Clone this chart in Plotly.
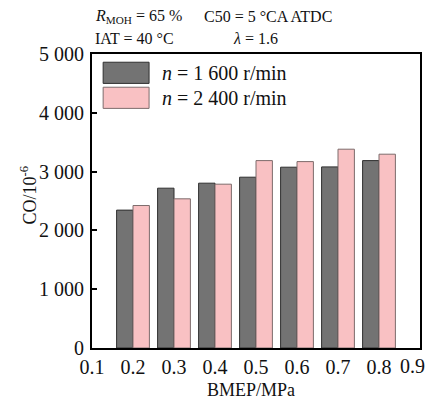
import plotly.graph_objects as go

# BMEP load points (MPa)
bmep = [0.2, 0.3, 0.4, 0.5, 0.6, 0.7, 0.8]
# CO emissions (10^-6) at the two engine speeds
co_1600 = [2345, 2718, 2803, 2905, 3075, 3080, 3187]
co_2400 = [2423, 2537, 2786, 3187, 3170, 3381, 3296]

series_names = ["<i>n</i> = 1 600 r/min", "<i>n</i> = 2 400 r/min"]
x_ticks = [0.1, 0.2, 0.3, 0.4, 0.5, 0.6, 0.7, 0.8, 0.9]
x_ticktext = ["0.1", "0.2", "0.3", "0.4", "0.5", "0.6", "0.7", "0.8", "0.9"]
y_ticks = [0, 1000, 2000, 3000, 4000, 5000]
y_ticktext = ["0", "1 000", "2 000", "3 000", "4 000", "5 000"]

FONT = "Liberation Serif, Times New Roman, serif"
TICK_SIZE = 20
GRAY = "#737373"
GRAY_EDGE = "#2f2f2f"
PINK = "#f9c1c3"
PINK_EDGE = "#7d6c6c"

fig = go.Figure()
fig.add_trace(go.Bar(x=bmep, y=co_1600, name=series_names[0],
                     marker=dict(color=GRAY, line=dict(color=GRAY_EDGE, width=1)),
                     showlegend=False))
fig.add_trace(go.Bar(x=bmep, y=co_2400, name=series_names[1],
                     marker=dict(color=PINK, line=dict(color=PINK_EDGE, width=1)),
                     showlegend=False))

# hand-drawn legend with wide swatches
legend_items = [(series_names[0], GRAY, GRAY_EDGE, 0.972, 0.900),
                (series_names[1], PINK, PINK_EDGE, 0.887, 0.815)]
shapes = []
annotations = []
for label, fill, edge, y1, y0 in legend_items:
    shapes.append(dict(type="rect", xref="paper", yref="paper",
                       x0=0.034, x1=0.174, y0=y0, y1=y1,
                       fillcolor=fill, line=dict(color=edge, width=1)))
    annotations.append(dict(text=label, xref="paper", yref="paper",
                            x=0.206, y=(y0 + y1) / 2, xanchor="left", yanchor="middle",
                            showarrow=False, font=dict(family=FONT, size=20, color="#111")))

# operating conditions above the plot
cond = [("<i>R</i><sub>MOH</sub> = 65 %", 0.003, 1.129),
        ("C50 = 5 °CA ATDC", 0.336, 1.129),
        ("IAT = 40 °C", 0.003, 1.054),
        ("<i>λ</i> = 1.6", 0.424, 1.054)]
for text, x, y in cond:
    annotations.append(dict(text=text, xref="paper", yref="paper", x=x, y=y,
                            xanchor="left", yanchor="middle", showarrow=False,
                            font=dict(family=FONT, size=16, color="#111")))

# last x tick label sits against the right edge of the figure
annotations.append(dict(text=x_ticktext[-1], xref="paper", yref="paper",
                        x=1.0212, y=-0.06, showarrow=False,
                        xanchor="right", yanchor="middle",
                        font=dict(family=FONT, size=TICK_SIZE, color="#111")))

# axis titles
annotations.append(dict(text="CO/10<sup>-6</sup>", xref="paper", yref="paper",
                        x=-0.194, y=0.52, textangle=-90, showarrow=False,
                        xanchor="center", yanchor="middle",
                        font=dict(family=FONT, size=18, color="#111")))
annotations.append(dict(text="BMEP/MPa", xref="paper", yref="paper",
                        x=0.485, y=-0.143, showarrow=False,
                        xanchor="center", yanchor="middle",
                        font=dict(family=FONT, size=18, color="#111")))

fig.update_layout(
    width=430, height=401,
    margin=dict(l=92, r=8, t=54, b=53),
    paper_bgcolor="white", plot_bgcolor="white",
    barmode="group", bargap=0.2, bargroupgap=0,
    font=dict(family=FONT, size=18, color="#111"),
    shapes=shapes, annotations=annotations,
    xaxis=dict(range=[0.1, 0.9], tickvals=x_ticks[:-1], ticktext=x_ticktext[:-1],
               showline=True, linecolor="black", linewidth=2, mirror=True,
               ticks="", showgrid=False, zeroline=False,
               tickfont=dict(family=FONT, size=TICK_SIZE, color="#111")),
    yaxis=dict(range=[0, 5000], tickvals=y_ticks, ticktext=y_ticktext,
               showline=True, linecolor="black", linewidth=2, mirror=True,
               ticks="inside", ticklen=5, tickwidth=2, tickcolor="black",
               showgrid=False, zeroline=False, ticklabelstandoff=2,
               tickfont=dict(family=FONT, size=TICK_SIZE, color="#111")),
)

fig.write_html("out.html")
